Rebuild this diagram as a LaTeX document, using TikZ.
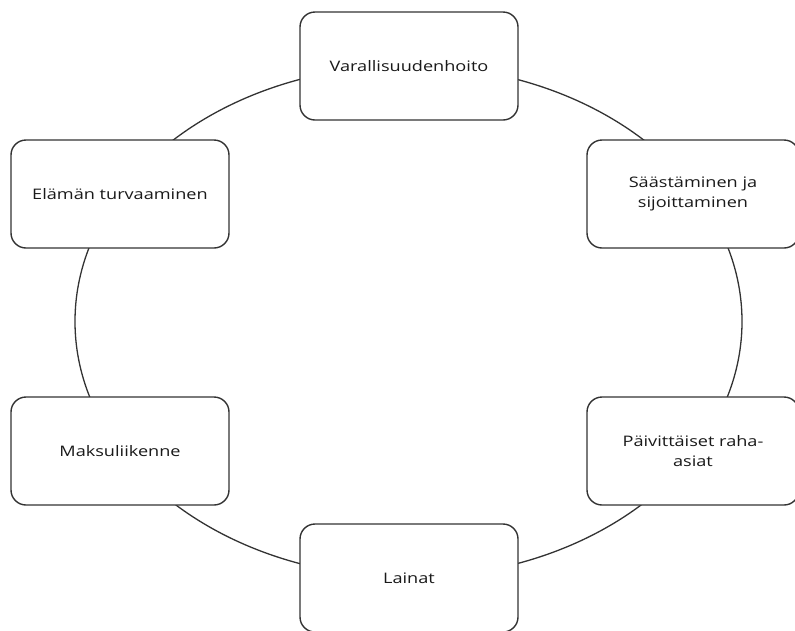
\documentclass[tikz,border=0pt]{standalone}
\usepackage{fontspec}
\setmainfont{Open Sans}[FakeStretch=1.25]
\usetikzlibrary{backgrounds}
\definecolor{linegray}{HTML}{333333}
\definecolor{txt}{HTML}{1A1A1A}
\tikzset{
  cyclebox/.style={draw=linegray, line width=1.4pt, fill=white, rounded corners=15pt,
    minimum width=218pt, minimum height=108pt, inner sep=2pt, align=center,
    text=txt, font=\fontsize{14.5}{20}\selectfont},
  ring/.style={draw=linegray, line width=1.3pt}
}
\begin{document}
\begin{tikzpicture}[x=1pt,y=-1pt]
\useasboundingbox (0,0) rectangle (795,630);
\node[cyclebox] (var) at (409,66) {Varallisuudenhoito};
\node[cyclebox, minimum width=212pt] (saa) at (693,194) {Säästäminen ja\\sijoittaminen};
\node[cyclebox, minimum width=212pt] (pai) at (693,451) {Päivittäiset raha-\\asiat};
\node[cyclebox] (lai) at (409,578) {Lainat};
\node[cyclebox] (mak) at (120,451) {Maksuliikenne};
\node[cyclebox] (ela) at (120,194) {Elämän turvaaminen};
\begin{scope}[on background layer]
  \coordinate (c) at (408.5,321.5);
  \draw[ring] (c) ellipse [x radius=333.5, y radius=256];
\end{scope}
\end{tikzpicture}
\end{document}
